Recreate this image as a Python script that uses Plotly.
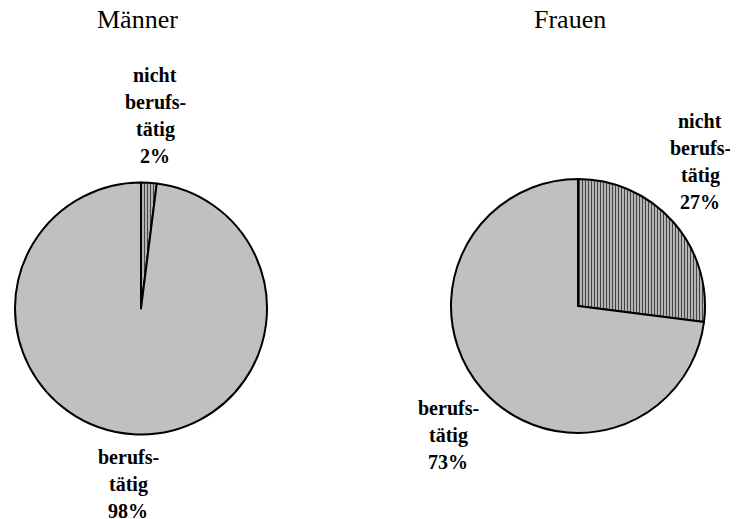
import plotly.graph_objects as go

# data
groups = ["Männer", "Frauen"]
categories = ["nicht berufstätig", "berufstätig"]
maenner = [2, 98]
frauen = [27, 73]
label_lines = {
    "nicht berufstätig": ["nicht", "berufs-", "tätig"],
    "berufstätig": ["berufs-", "tätig"],
}

W, H = 738, 519
OFF = 8  # page body margin shifts the figure by this much

# pie placement in pixels: (left, top, right, bottom)
pie_boxes = [(15, 182, 267, 435), (451, 179, 705, 433)]
title_pos = [(137, 20), (570, 20)]
# label anchor: (center x, first line y) per group per category
label_pos = [
    {"nicht berufstätig": (155, 75), "berufstätig": (128, 457)},
    {"nicht berufstätig": (700, 121), "berufstätig": (448, 408)},
]
line_gap = 27


def px(x, y):
    return (x - OFF) / W, 1 - (y - OFF) / H


fig = go.Figure()

for i, (name, vals) in enumerate(zip(groups, [maenner, frauen])):
    l, t, r, b = pie_boxes[i]
    x0, y1 = px(l, t)
    x1, y0 = px(r, b)
    fig.add_trace(go.Pie(
        labels=categories,
        values=vals,
        sort=False,
        direction="clockwise",
        rotation=0,
        textinfo="none",
        hoverinfo="label+percent",
        showlegend=False,
        domain=dict(x=[x0, x1], y=[y0, y1]),
        marker=dict(
            colors=["#c0c0c0", "#c0c0c0"],
            line=dict(color="black", width=2),
            pattern=dict(
                shape=["|", ""],
                fgcolor="#444444",
                bgcolor="#c0c0c0",
                size=3,
                solidity=0.4,
            ),
        ),
    ))

    tx, ty = px(*title_pos[i])
    fig.add_annotation(
        x=tx, y=ty, xref="paper", yref="paper",
        text=name, showarrow=False, xanchor="center", yanchor="middle",
        font=dict(family="Liberation Serif", size=26, color="black"),
    )

    for cat, v in zip(categories, vals):
        cx, cy = label_pos[i][cat]
        lines = label_lines[cat] + [f"{v}%"]
        for k, line in enumerate(lines):
            ax, ay = px(cx, cy + k * line_gap)
            fig.add_annotation(
                x=ax, y=ay, xref="paper", yref="paper",
                text=f"<b>{line}</b>", showarrow=False,
                xanchor="center", yanchor="middle",
                font=dict(family="Liberation Serif", size=20, color="black"),
            )

fig.update_layout(
    width=W, height=H,
    margin=dict(l=0, r=0, t=0, b=0),
    paper_bgcolor="white",
    plot_bgcolor="white",
)

fig.write_html("out.html")
